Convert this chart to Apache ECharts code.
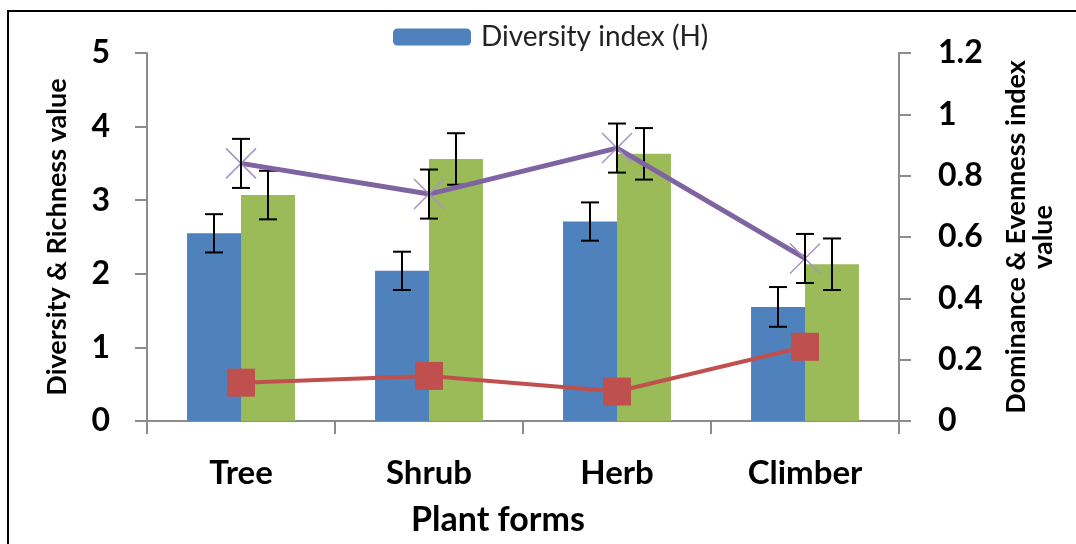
<!DOCTYPE html>
<html lang="en">
<head>
    <meta charset="UTF-8">
    <title>Plant forms diversity</title>
    <script src="https://cdn.jsdelivr.net/npm/echarts@6/dist/echarts.min.js"></script>
    <style>
        html, body { margin: 0; padding: 0; background: #fff; }
        #charts { width: 1076px; height: 544px; }
    </style>
</head>
<body>
<div id="charts"></div>
<script>
    var categories = ['Tree', 'Shrub', 'Herb', 'Climber'];
    var diversity = [2.55, 2.04, 2.71, 1.55];
    var diversityErr = [0.26, 0.26, 0.26, 0.27];
    var richness = [3.07, 3.56, 3.63, 2.13];
    var richnessErr = [0.33, 0.35, 0.35, 0.35];
    var evenness = [0.84, 0.74, 0.89, 0.53];
    var evennessErr = [0.08, 0.08, 0.08, 0.08];
    var dominance = [0.125, 0.147, 0.096, 0.242];
    var leftTicks = [0, 1, 2, 3, 4, 5];
    var rightTicks = [0, 0.2, 0.4, 0.6, 0.8, 1, 1.2];

    var font = 'Lato, "Open Sans", sans-serif';
    var barFrac = 0.287;

    // [category, low, high] for the error whiskers
    function errData(vals, errs) {
        return vals.map(function (v, i) { return [i, v - errs[i], v + errs[i]]; });
    }

    function errRender(offset) {
        return function (params, api) {
            var lo = api.coord([api.value(0), api.value(1)]);
            var hi = api.coord([api.value(0), api.value(2)]);
            var x = lo[0] + api.size([1, 0])[0] * barFrac * offset;
            var cap = 9;
            var st = { stroke: '#000', lineWidth: 2 };
            return {
                type: 'group',
                children: [
                    { type: 'line', shape: { x1: x, y1: lo[1], x2: x, y2: hi[1] }, style: st },
                    { type: 'line', shape: { x1: x - cap, y1: lo[1], x2: x + cap, y2: lo[1] }, style: st },
                    { type: 'line', shape: { x1: x - cap, y1: hi[1], x2: x + cap, y2: hi[1] }, style: st }
                ]
            };
        };
    }

    var chart = echarts.init(document.getElementById('charts'));

    var axisLine = { show: true, lineStyle: { color: '#8c8c8c', width: 2 } };

    var option = {
        animation: false,
        textStyle: { fontFamily: font },
        graphic: [{
            type: 'rect',
            shape: { x: 8, y: 11, width: 1200, height: 700 },
            style: { fill: 'none', stroke: '#000', lineWidth: 2 },
            silent: true
        }],
        legend: {
            data: ['Diversity index (H)'],
            left: 388,
            top: 18,
            itemWidth: 78,
            itemHeight: 17,
            textStyle: { fontFamily: font, fontSize: 28, color: '#222', padding: [0, 0, 0, 5] }
        },
        grid: { left: 147, right: 177, top: 53, bottom: 123 },
        xAxis: {
            type: 'category',
            data: categories,
            name: 'Plant forms',
            nameLocation: 'middle',
            nameGap: 82,
            nameTextStyle: { fontFamily: font, fontSize: 34, fontWeight: 'bold', color: '#000', padding: [0, 50, 0, 0] },
            axisLine: axisLine,
            axisTick: { show: true, length: 13, lineStyle: { color: '#8c8c8c', width: 2 } },
            axisLabel: { fontFamily: font, fontSize: 33, fontWeight: 'bold', color: '#000', margin: 36 }
        },
        yAxis: [{
            type: 'value',
            min: leftTicks[0],
            max: leftTicks[leftTicks.length - 1],
            interval: leftTicks[1] - leftTicks[0],
            name: 'Diversity & Richness value',
            nameLocation: 'middle',
            nameRotate: 90,
            nameGap: 76,
            nameTextStyle: { fontFamily: font, fontSize: 27, fontWeight: 'bold', color: '#000' },
            axisLine: axisLine,
            axisTick: { show: true, length: 12, lineStyle: { color: '#8c8c8c', width: 2 } },
            axisLabel: { fontFamily: font, fontSize: 32, fontWeight: 'bold', color: '#000', margin: 37 },
            splitLine: { show: false }
        }, {
            type: 'value',
            position: 'right',
            min: rightTicks[0],
            max: rightTicks[rightTicks.length - 1],
            interval: 0.2,
            name: 'Dominance & Evenness index\nvalue',
            nameLocation: 'middle',
            nameRotate: 90,
            nameGap: 104,
            nameTextStyle: { fontFamily: font, fontSize: 27, fontWeight: 'bold', color: '#000', lineHeight: 27, align: 'center' },
            axisLine: axisLine,
            axisTick: { show: true, length: 12, lineStyle: { color: '#8c8c8c', width: 2 } },
            axisLabel: {
                fontFamily: font, fontSize: 32, fontWeight: 'bold', color: '#000', margin: 39,
                formatter: function (v) { return String(Math.round(v * 10) / 10); }
            },
            splitLine: { show: false }
        }],
        series: [{
            name: 'Diversity index (H)',
            type: 'bar',
            data: diversity,
            barWidth: (barFrac * 100) + '%',
            barGap: '0%',
            itemStyle: { color: '#4f81bd' }
        }, {
            name: 'Richness index',
            type: 'bar',
            data: richness,
            barWidth: (barFrac * 100) + '%',
            itemStyle: { color: '#9bbb59' }
        }, {
            type: 'custom',
            data: errData(diversity, diversityErr),
            encode: { x: 0, y: [1, 2] },
            renderItem: errRender(-0.5),
            z: 3
        }, {
            type: 'custom',
            data: errData(richness, richnessErr),
            encode: { x: 0, y: [1, 2] },
            renderItem: errRender(0.5),
            z: 3
        }, {
            name: 'Evenness index',
            type: 'line',
            yAxisIndex: 1,
            data: evenness,
            symbol: 'path://M0,0L10,10M10,0L0,10',
            symbolSize: 30,
            lineStyle: { color: '#8064a2', width: 5 },
            itemStyle: { color: 'none', borderColor: '#a592c8', borderWidth: 1.5 },
            z: 4
        }, {
            name: 'Dominance index',
            type: 'line',
            yAxisIndex: 1,
            data: dominance,
            symbol: 'rect',
            symbolSize: 28,
            lineStyle: { color: '#c0504d', width: 4 },
            itemStyle: { color: '#c0504d' },
            z: 4
        }, {
            type: 'custom',
            yAxisIndex: 1,
            data: errData(evenness, evennessErr),
            encode: { x: 0, y: [1, 2] },
            renderItem: errRender(0),
            z: 5
        }]
    };

    chart.setOption(option);
</script>
</body>
</html>
